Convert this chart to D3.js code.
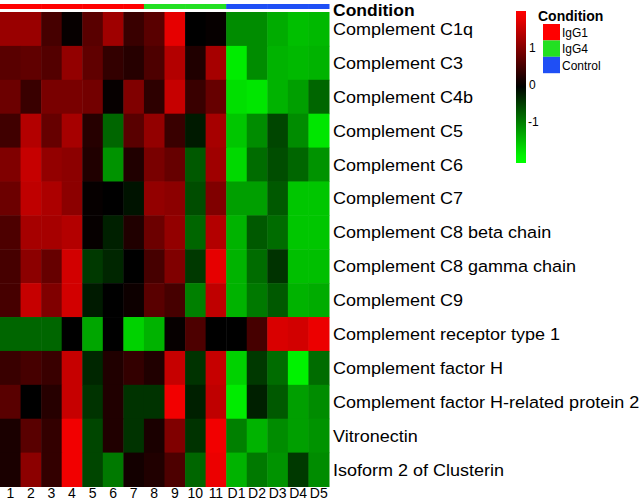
<!DOCTYPE html>
<html>
<head>
<meta charset="utf-8">
<script src="https://cdn.jsdelivr.net/npm/d3@7"></script>
<style>
  body { margin: 0; background: #fff; }
  text { font-family: "Liberation Sans", Arial, sans-serif; fill: #000; }
</style>
</head>
<body>
<svg id="heatmap" width="641" height="500"></svg>
<script>
//* Data
const columns = ["1", "2", "3", "4", "5", "6", "7", "8", "9", "10", "11", "D1", "D2", "D3", "D4", "D5"];
const condition = ["IgG1", "IgG1", "IgG1", "IgG1", "IgG1", "IgG1", "IgG1",
  "IgG4", "IgG4", "IgG4", "IgG4",
  "Control", "Control", "Control", "Control", "Control"];
const conditionLevels = ["IgG1", "IgG4", "Control"];
const proteins = [
  "Complement C1q",
  "Complement C3",
  "Complement C4b",
  "Complement C5",
  "Complement C6",
  "Complement C7",
  "Complement C8 beta chain",
  "Complement C8 gamma chain",
  "Complement C9",
  "Complement receptor type 1",
  "Complement factor H",
  "Complement factor H-related protein 2",
  "Vitronectin",
  "Isoform 2 of Clusterin"
];
// scaled expression, one row per protein, same order as columns
const values = [
  [1.2, 1.2, 0.55, 0.05, 0.7, 1.25, 0.45, 0.7, 1.8, 0.0, 0.05, -1.1, -1.1, -1.35, -1.5, -1.45],
  [0.7, 0.75, 0.65, 1.15, 0.75, 0.4, 0.3, 0.6, 1.4, 0.25, 1.3, -1.85, -1.1, -1.4, -1.45, -1.4],
  [0.85, 0.45, 0.95, 0.95, 0.9, 0.05, 1.0, 0.35, 1.55, 0.45, 0.8, -1.75, -1.8, -1.4, -1.25, -0.8],
  [0.5, 1.4, 0.8, 1.3, 0.3, -0.8, 0.7, 1.15, 0.45, -0.2, 1.3, -1.55, -1.1, -0.55, -1.1, -1.8],
  [1.0, 1.55, 1.15, 1.1, 0.25, -1.15, 0.25, 0.95, 0.8, -0.7, 1.25, -1.7, -0.85, -0.6, -0.8, -1.15],
  [0.85, 1.5, 1.35, 1.1, 0.05, 0.0, -0.15, 1.15, 1.1, -0.6, 1.0, -1.25, -1.25, -0.7, -1.55, -1.55],
  [0.6, 1.3, 1.3, 1.4, 0.05, -0.25, 0.25, 0.85, 1.15, -0.8, 1.4, -1.4, -0.7, -0.85, -1.55, -1.55],
  [0.55, 1.1, 0.8, 1.65, -0.45, -0.3, 0.0, 0.55, 1.0, -0.45, 1.8, -1.4, -0.85, -0.4, -1.5, -1.5],
  [0.55, 1.55, 1.0, 1.65, -0.2, 0.0, 0.1, 0.7, 0.55, -1.0, 1.5, -1.4, -0.95, -0.7, -1.4, -1.35],
  [-0.8, -0.8, -0.8, 0.0, -1.3, 0.0, -1.65, -1.4, 0.05, 0.6, 0.0, 0.0, 0.55, 1.7, 1.65, 1.85],
  [0.45, 0.55, 0.45, 1.55, -0.3, 0.25, 0.4, 0.25, 1.55, -0.4, 1.55, -1.65, -0.45, -0.85, -1.9, -0.85],
  [0.7, 0.0, 0.3, 1.55, -0.4, 0.25, -0.4, -0.4, 1.9, -0.25, 1.5, -1.85, -0.25, -0.7, -1.25, -1.1],
  [0.2, 0.7, 0.4, 1.9, -0.55, 0.25, -0.4, 0.2, 1.0, -0.4, 1.9, -1.0, -1.4, -1.1, -1.25, -1.15],
  [0.2, 1.1, 0.4, 1.9, -0.55, -0.95, 0.15, 0.25, 0.6, -0.8, 1.85, -1.4, -0.95, -1.15, -0.45, -1.1]
];
const legendTicks = [1, 0, -1];

//* Layout
const heat = { left: 0, right: 329, top: 12, bottom: 486.5 };
const labelX = 333;
const stretch = 1.06; // labels in the figure are slightly wide

const svg = d3.select("#heatmap");

const x = d3.scaleBand()
  .domain(columns)
  .range([heat.left, heat.right]);

const y = d3.scaleBand()
  .domain(proteins)
  .range([heat.top, heat.bottom]);

const color = d3.scaleLinear()
  .domain([-2, 0, 2])
  .range(["#00ff00", "#000000", "#ff0000"])
  .clamp(true);

const conditionColor = d3.scaleOrdinal()
  .domain(conditionLevels)
  .range(["#ff0000", "#22e022", "#1f4ff5"]);

//* Annotation bar
svg.append("g")
  .selectAll("rect")
  .data(columns)
  .join("rect")
  .attr("x", d => x(d))
  .attr("y", 4)
  .attr("width", x.bandwidth() + 0.5)
  .attr("height", 5)
  .attr("fill", (d, i) => conditionColor(condition[i]));

svg.append("text")
  .attr("transform", `translate(${labelX}, 15.5) scale(${stretch}, 1)`)
  .attr("font-size", "16.5px")
  .attr("font-weight", "bold")
  .text("Condition");

//* Cells
const cells = proteins.flatMap((p, r) =>
  columns.map((c, j) => ({ protein: p, column: c, value: values[r][j] })));

svg.append("g")
  .selectAll("rect")
  .data(cells)
  .join("rect")
  .attr("x", d => x(d.column))
  .attr("y", d => y(d.protein))
  .attr("width", x.bandwidth() + 0.5)
  .attr("height", y.bandwidth() + 0.5)
  .attr("fill", d => color(d.value));

//* Row labels
svg.append("g")
  .selectAll("text")
  .data(proteins)
  .join("text")
  .attr("transform", d => `translate(${labelX}, ${y(d) + y.bandwidth() / 2 + 6}) scale(${stretch}, 1)`)
  .attr("font-size", "17px")
  .text(d => d);

//* Column labels
svg.append("g")
  .selectAll("text")
  .data(columns)
  .join("text")
  .attr("x", d => x(d) + x.bandwidth() / 2)
  .attr("y", 498)
  .attr("text-anchor", "middle")
  .attr("font-size", "14px")
  .text(d => d);

//* Colour legend
const legendY = d3.scaleLinear()
  .domain([-2.1, 2.05])
  .range([163, 11]);

const grad = svg.append("defs")
  .append("linearGradient")
  .attr("id", "legendGrad")
  .attr("x1", 0).attr("y1", 1)
  .attr("x2", 0).attr("y2", 0);

d3.range(0, 1.0001, 0.05).forEach(t => {
  const v = legendY.domain()[0] + t * (legendY.domain()[1] - legendY.domain()[0]);
  grad.append("stop")
    .attr("offset", t)
    .attr("stop-color", color(v));
});

svg.append("rect")
  .attr("x", 516)
  .attr("y", legendY.range()[1])
  .attr("width", 10)
  .attr("height", legendY.range()[0] - legendY.range()[1])
  .attr("fill", "url(#legendGrad)");

svg.append("g")
  .selectAll("text")
  .data(legendTicks)
  .join("text")
  .attr("x", d => d < 0 ? 528 : 529)
  .attr("y", d => legendY(d) + 3)
  .attr("font-size", "12px")
  .text(d => d);

//* Condition legend
svg.append("text")
  .attr("x", 538)
  .attr("y", 21)
  .attr("font-size", "14px")
  .attr("font-weight", "bold")
  .text("Condition");

const key = svg.append("g")
  .selectAll("g")
  .data(conditionLevels)
  .join("g")
  .attr("transform", (d, i) => `translate(543, ${24 + i * 16.4})`);

key.append("rect")
  .attr("width", 17)
  .attr("height", 16.4)
  .attr("fill", d => conditionColor(d));

key.append("text")
  .attr("x", 19)
  .attr("y", 13)
  .attr("font-size", "12px")
  .text(d => d);
</script>
</body>
</html>
